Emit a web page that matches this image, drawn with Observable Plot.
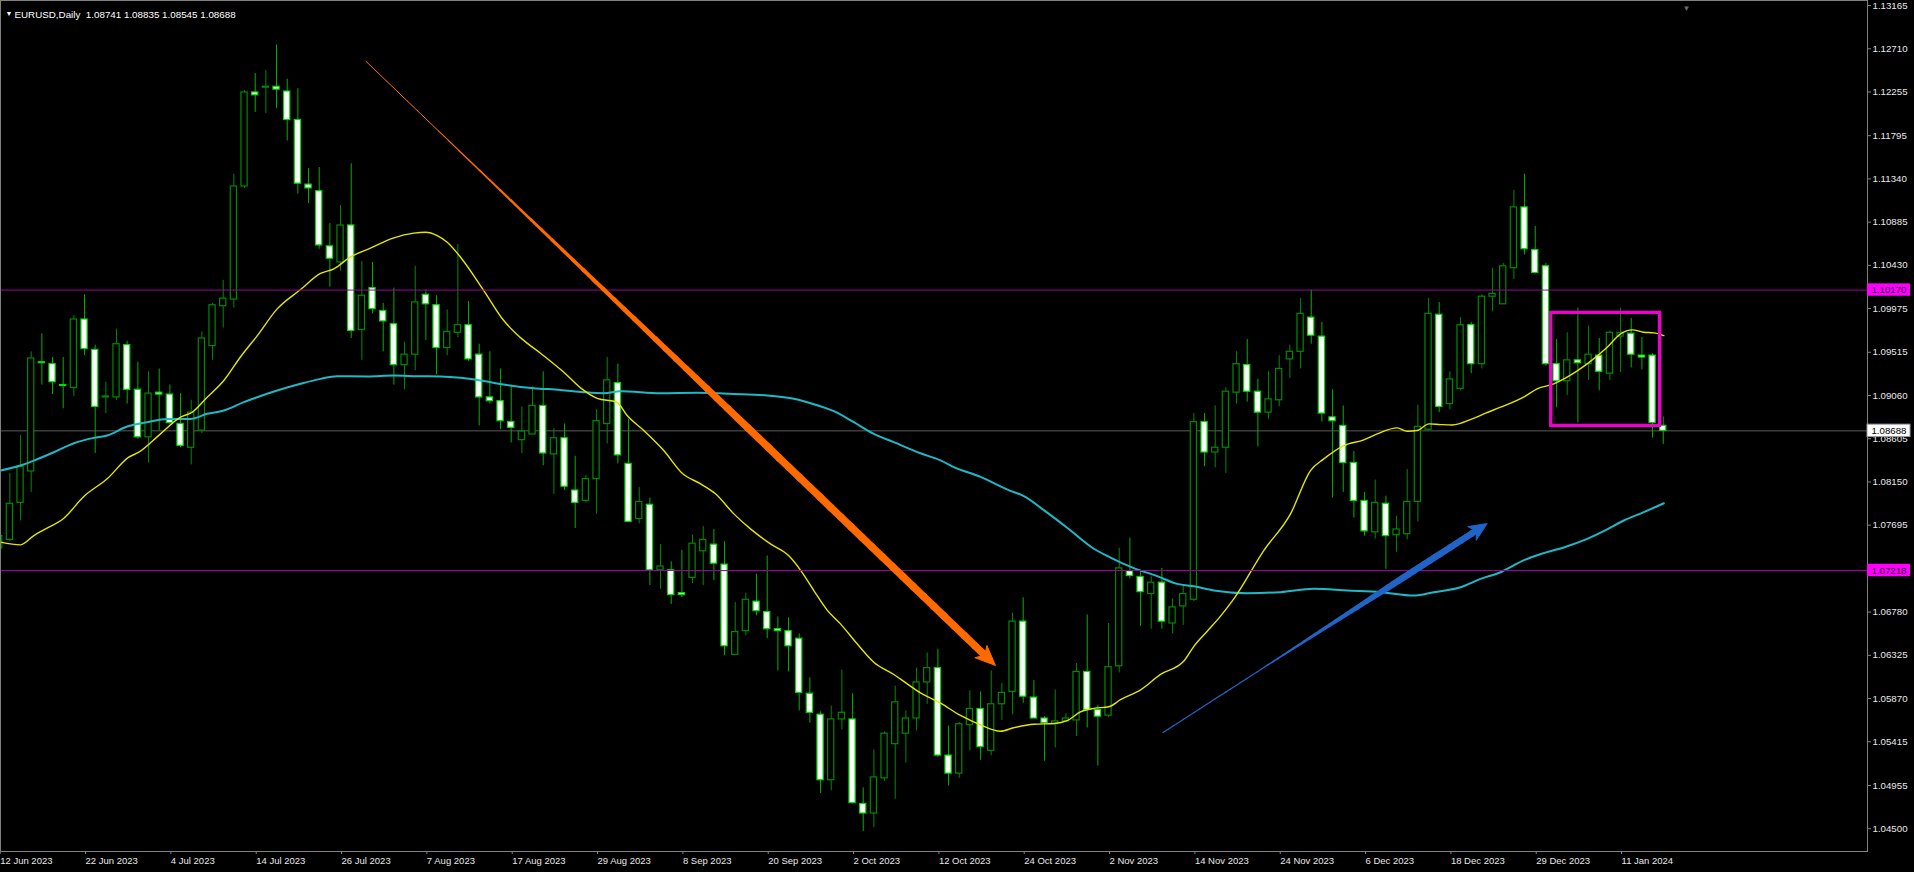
<!DOCTYPE html>
<html><head><meta charset="utf-8">
<script src="https://cdn.jsdelivr.net/npm/d3@7"></script>
<script src="https://cdn.jsdelivr.net/npm/@observablehq/plot@0.6"></script>
<style>
html,body{margin:0;padding:0;background:#000;overflow:hidden}
#chart svg{display:block;background:#000}
</style></head><body><div id="chart"></div>
<script>
// ---- data ----
const opens  = [1.0745,1.0754,1.0793,1.0826,1.0941,1.0939,1.0917,1.0914,1.0986,1.0954,1.0904,1.0904,1.0959,1.0912,1.0862,1.0909,1.0907,1.0876,1.0851,1.0869,1.0958,1.1000,1.1007,1.1126,1.1225,1.1230,1.1231,1.1226,1.1196,1.1128,1.1121,1.1063,1.1046,1.1085,1.0975,1.1019,1.0995,1.0981,1.0938,1.0949,1.1012,1.1001,1.0956,1.0972,1.0980,1.0949,1.0904,1.0900,1.0878,1.0859,1.0865,1.0895,1.0844,1.0861,1.0806,1.0795,1.0818,1.0876,1.0919,1.0834,1.0776,1.0791,1.0722,1.0722,1.0698,1.0714,1.0742,1.0749,1.0728,1.0633,1.0658,1.0689,1.0678,1.0660,1.0658,1.0650,1.0592,1.0570,1.0501,1.0565,1.0565,1.0476,1.0466,1.0503,1.0539,1.0550,1.0566,1.0604,1.0619,1.0527,1.0508,1.0559,1.0576,1.0532,1.0581,1.0594,1.0668,1.0588,1.0566,1.0560,1.0563,1.0564,1.0615,1.0575,1.0569,1.0621,1.0721,1.0715,1.0697,1.0709,1.0666,1.0684,1.0691,1.0878,1.0846,1.0851,1.0909,1.0938,1.0910,1.0888,1.0901,1.0944,1.0952,1.0988,1.0968,1.0883,1.0874,1.0835,1.0795,1.0762,1.0792,1.0759,1.0760,1.0794,1.0870,1.0991,1.0897,1.0913,1.0980,1.0939,1.1010,1.1002,1.1040,1.1104,1.1059,1.1042,1.0939,1.0921,1.0943,1.0939,1.0948,1.0929,1.0968,1.0971,1.0948,1.0948,1.08741];
const highs  = [1.0789,1.0824,1.0864,1.0952,1.0971,1.0946,1.0946,1.0990,1.1012,1.0959,1.0920,1.0976,1.0963,1.0941,1.0931,1.0934,1.0917,1.0908,1.0901,1.0973,1.1003,1.1027,1.1139,1.1227,1.1245,1.1248,1.1275,1.1239,1.1229,1.1145,1.1146,1.1087,1.1106,1.1150,1.1047,1.1046,1.1003,1.1019,1.0962,1.1042,1.1017,1.1011,1.0996,1.1065,1.1005,1.0960,1.0952,1.0934,1.0917,1.0894,1.0915,1.0931,1.0871,1.0876,1.0842,1.0822,1.0891,1.0946,1.0939,1.0881,1.0809,1.0798,1.0749,1.0731,1.0743,1.0759,1.0768,1.0765,1.0752,1.0688,1.0698,1.0718,1.0737,1.0673,1.0672,1.0655,1.0609,1.0573,1.0579,1.0617,1.0592,1.0493,1.0533,1.0552,1.0600,1.0574,1.0619,1.0635,1.0639,1.0558,1.0562,1.0595,1.0594,1.0616,1.0603,1.0677,1.0693,1.0606,1.0568,1.0596,1.0571,1.0624,1.0675,1.0580,1.0666,1.0745,1.0756,1.0722,1.0715,1.0724,1.0692,1.0706,1.0887,1.0887,1.0895,1.0914,1.0952,1.0965,1.0923,1.0931,1.0948,1.0959,1.1008,1.1017,1.0983,1.0912,1.0895,1.0847,1.0804,1.0817,1.0800,1.0779,1.0828,1.0896,1.1008,1.1004,1.0931,1.0988,1.0983,1.1012,1.1040,1.1045,1.1122,1.1139,1.1084,1.1045,1.0965,1.0972,1.0998,1.0979,1.0966,1.0974,1.0998,1.0987,1.0967,1.0950,1.08835];
const lows   = [1.0738,1.0752,1.0774,1.0804,1.0917,1.0907,1.0892,1.0905,1.0948,1.0845,1.0887,1.0901,1.0897,1.0860,1.0835,1.0869,1.0875,1.0851,1.0833,1.0866,1.0943,1.0977,1.0998,1.1124,1.1204,1.1203,1.1208,1.1174,1.1118,1.1108,1.1060,1.1020,1.1037,1.0966,1.0943,1.0992,1.0952,1.0917,1.0912,1.0932,1.0964,1.0928,1.0948,1.0967,1.0942,1.0874,1.0897,1.0870,1.0856,1.0845,1.0865,1.0832,1.0802,1.0806,1.0766,1.0793,1.0781,1.0855,1.0834,1.0773,1.0771,1.0706,1.0702,1.0686,1.0693,1.0708,1.0706,1.0711,1.0632,1.0633,1.0653,1.0674,1.0650,1.0616,1.0615,1.0574,1.0561,1.0487,1.0490,1.0554,1.0476,1.0447,1.0451,1.0500,1.0481,1.0519,1.0553,1.0581,1.0525,1.0495,1.0503,1.0532,1.0522,1.0527,1.0564,1.0570,1.0582,1.0566,1.0521,1.0535,1.0562,1.0547,1.0556,1.0516,1.0567,1.0614,1.0713,1.0663,1.0660,1.0660,1.0655,1.0664,1.0689,1.0831,1.0830,1.0824,1.0897,1.0899,1.0852,1.0881,1.0894,1.0924,1.0934,1.0960,1.0878,1.0798,1.0804,1.0777,1.0758,1.0755,1.0723,1.0741,1.0754,1.0773,1.0869,1.0888,1.0891,1.0911,1.0929,1.0934,1.0994,1.1002,1.1028,1.1054,1.1034,1.0937,1.0893,1.0906,1.0877,1.0922,1.0911,1.0922,1.0930,1.0935,1.0933,1.0861,1.08545];
const closes = [1.0758,1.0792,1.0831,1.0945,1.0940,1.0920,1.0916,1.0986,1.0955,1.0894,1.0905,1.0960,1.0912,1.0862,1.0908,1.0907,1.0877,1.0853,1.0888,1.0966,1.1001,1.1008,1.1126,1.1225,1.1222,1.1231,1.1228,1.1196,1.1129,1.1124,1.1064,1.1050,1.1085,1.0974,1.1011,1.0997,1.0984,1.0938,1.0949,1.1004,1.1002,1.0956,1.0973,1.0980,1.0944,1.0904,1.0900,1.0879,1.0872,1.0868,1.0895,1.0845,1.0861,1.0810,1.0793,1.0818,1.0879,1.0922,1.0843,1.0773,1.0794,1.0722,1.0726,1.0696,1.0696,1.0750,1.0754,1.0729,1.0642,1.0657,1.0691,1.0679,1.0660,1.0658,1.0642,1.0593,1.0572,1.0501,1.0565,1.0572,1.0477,1.0466,1.0504,1.0550,1.0583,1.0566,1.0604,1.0619,1.0527,1.0508,1.0560,1.0576,1.0536,1.0581,1.0593,1.0668,1.0589,1.0566,1.0561,1.0563,1.0566,1.0615,1.0575,1.0568,1.0620,1.0724,1.0716,1.0699,1.0709,1.0668,1.0683,1.0697,1.0878,1.0846,1.0851,1.0910,1.0939,1.0910,1.0888,1.0902,1.0934,1.0952,1.0992,1.0969,1.0887,1.0879,1.0835,1.0795,1.0763,1.0793,1.0758,1.0765,1.0794,1.0873,1.0992,1.0894,1.0923,1.0980,1.0939,1.1010,1.1013,1.1042,1.1104,1.1060,1.1035,1.0939,1.0921,1.0943,1.0940,1.0949,1.0931,1.0972,1.0972,1.0949,1.0946,1.0877,1.08688];

const xTickIndex  = [0,8,16,24,32,40,48,56,64,72,80,88,96,104,112,120,128,136,144,152];
const xTickLabels = ["12 Jun 2023","22 Jun 2023","4 Jul 2023","14 Jul 2023","26 Jul 2023","7 Aug 2023","17 Aug 2023","29 Aug 2023","8 Sep 2023","20 Sep 2023","2 Oct 2023","12 Oct 2023","24 Oct 2023","2 Nov 2023","14 Nov 2023","24 Nov 2023","6 Dec 2023","18 Dec 2023","29 Dec 2023","11 Jan 2024"];
const yTicks = [1.13165,1.12710,1.12255,1.11795,1.11340,1.10885,1.10430,1.09975,1.09515,1.09060,1.08605,1.08150,1.07695,1.07240,1.06780,1.06325,1.05870,1.05415,1.04955,1.04500];

const maFastIdx = [0.12,2.0,3.25,4.18,6.06,7.93,10.12,12.15,13.09,15.12,17.0,18.1,19.5,21.06,22.6,24.2,26.06,28.25,30.12,31.37,32.9,34.8,37.0,38.87,39.97,41.06,42.0,43.25,45.43,47.3,49.0,50.75,52.93,54.5,56.06,57.9,58.87,60.43,62.3,64.03,65.75,67.15,68.87,70.43,72.3,74.0,75.1,76.37,77.6,78.87,80.43,81.99,83.87,85.12,86.37,88.25,90.12,92.0,93.87,95.12,97.0,98.87,100.12,101.37,102.62,104.03,105.12,107.0,108.87,111.06,112.0,113.25,114.5,115.74,118.55,121.06,122.93,124.18,126.06,127.93,129.18,131.06,132.0,132.93,134.03,135.12,136.22,138.09,139.34,140.75,143.0,144.18,145.74,146.99,148.87,150.75,152.0,153.1,154.18,155.12,156.06];
const maFastVal = [1.07516,1.07488,1.07586,1.07646,1.07768,1.07997,1.08183,1.08411,1.08463,1.08656,1.08832,1.08884,1.09042,1.09218,1.09463,1.09691,1.09972,1.10175,1.10345,1.10393,1.10516,1.10611,1.10719,1.10769,1.10779,1.10744,1.10674,1.10516,1.10165,1.09849,1.09656,1.09505,1.09305,1.09140,1.09030,1.08989,1.08849,1.08691,1.08481,1.08242,1.08130,1.08025,1.07814,1.07656,1.07498,1.07375,1.07225,1.07007,1.06804,1.06656,1.06446,1.06253,1.06123,1.06025,1.05930,1.05822,1.05692,1.05593,1.05526,1.05563,1.05600,1.05607,1.05637,1.05729,1.05766,1.05784,1.05858,1.05962,1.06124,1.06265,1.06420,1.06579,1.06738,1.06919,1.07428,1.07814,1.08270,1.08393,1.08533,1.08593,1.08656,1.08719,1.08684,1.08691,1.08761,1.08754,1.08750,1.08814,1.08874,1.08937,1.09049,1.09130,1.09182,1.09253,1.09393,1.09568,1.09709,1.09751,1.09726,1.09719,1.09691];
const maSlowIdx = [0.12,2.0,3.25,5.12,7.0,8.87,10.12,12.0,13.87,15.75,17.93,19.5,21.06,22.93,26.06,28.25,30.12,31.68,34.5,37.0,39.2,41.37,43.25,45.12,47.3,50.12,52.62,54.81,56.68,58.25,62.0,65.43,68.87,72.0,74.5,76.06,78.25,80.12,82.0,83.87,86.37,88.25,89.5,92.0,94.8,96.06,97.93,100.12,102.62,104.18,106.37,108.56,110.43,112.0,113.87,117.0,120.12,123.25,126.37,129.5,132.62,134.5,137.0,138.87,140.75,143.0,144.56,146.74,148.87,150.43,152.31,154.18,156.06];
const maSlowVal = [1.08270,1.08323,1.08375,1.08463,1.08558,1.08614,1.08639,1.08733,1.08779,1.08814,1.08814,1.08867,1.08902,1.08990,1.09112,1.09183,1.09235,1.09263,1.09260,1.09270,1.09263,1.09260,1.09246,1.09218,1.09175,1.09137,1.09119,1.09095,1.09084,1.09105,1.09084,1.09088,1.09077,1.09060,1.09025,1.08979,1.08895,1.08779,1.08656,1.08569,1.08452,1.08377,1.08307,1.08204,1.08056,1.08001,1.07853,1.07668,1.07447,1.07354,1.07243,1.07159,1.07077,1.07051,1.07007,1.06979,1.06990,1.07025,1.07007,1.06990,1.06954,1.06990,1.07042,1.07130,1.07200,1.07330,1.07393,1.07463,1.07551,1.07632,1.07744,1.07832,1.07926];

const levelPrices = [1.10170, 1.07218];
const currentPrice = [1.08688];
const headerText = ["EURUSD,Daily  1.08741 1.08835 1.08545 1.08688"];
const zoneBox = [145.5, 155.7, 1.0874, 1.0993];      // [index from, index to, price low, price high]
const orangeArrow = [34.4, 1.12576, 93.4, 1.06218];  // [index, price] start -> tip
const blueArrow = [109.1, 1.05512, 139.5, 1.07712];

// ---- layout ----
const W = 1914, H = 872, mR = 47, mB = 21;
const xMin = 0.122, xMax = 175.15;
const yMin = 1.04260, yMax = 1.13218;
const pxPerBar = (W - mR) / (xMax - xMin);
const pxPerPrice = (H - mB) / (yMax - yMin);

const candles = opens.map((o, i) => ({i, o, h: highs[i], l: lows[i], c: closes[i], up: closes[i] >= o}));
const fast = maFastIdx.map((x, k) => ({x, y: maFastVal[k]}));
const slow = maSlowIdx.map((x, k) => ({x, y: maSlowVal[k]}));
const labelMap = new Map(xTickIndex.map((d, k) => [d, xTickLabels[k]]));

function arrowMarks(a, color, wProfile, headLen, headW) {
  const [i1, p1, i2, p2] = a;
  const ux = (i2 - i1) * pxPerBar, uy = -(p2 - p1) * pxPerPrice;
  const len = Math.hypot(ux, uy);
  const dx = ux / len, dy = uy / len, nx = -dy, ny = dx;
  const toData = (px, py) => ({x: i1 + px / pxPerBar, y: p1 - py / pxPerPrice});
  const shaft = len - headLen * 0.7;
  const N = 60, segs = [];
  for (let k = 0; k < N; k++) {
    const s0 = shaft * k / N, s1 = shaft * (k + 1) / N;
    const a0 = toData(dx * s0, dy * s0), a1 = toData(dx * s1, dy * s1);
    segs.push({x1: a0.x, y1: a0.y, x2: a1.x, y2: a1.y, w: wProfile((k + 0.5) / N)});
  }
  const bx = ux - dx * headLen, by = uy - dy * headLen;
  const nb = ux - dx * headLen * 0.75, nby = uy - dy * headLen * 0.75;
  const head = [
    toData(bx + nx * headW / 2, by + ny * headW / 2),
    toData(ux, uy),
    toData(bx - nx * headW / 2, by - ny * headW / 2),
    toData(nb, nby)
  ];
  return [
    Plot.link(segs, {x1: "x1", y1: "y1", x2: "x2", y2: "y2", stroke: color, strokeWidth: "w", strokeLinecap: "round"}),
    Plot.line(head, {x: "x", y: "y", fill: color, stroke: color, strokeWidth: 1, curve: "linear-closed"})
  ];
}

const orangeW = t => t < 0.12 ? 1 : Math.min(7.5, 1 + 6.5 * Math.pow((t - 0.12) / 0.5, 1.1));
const blueW = t => t < 0.3 ? 1.2 : Math.min(6.5, 1.2 + 5.3 * Math.pow((t - 0.3) / 0.45, 1.2));

const bullLine = "#008a00", bearLine = "#00dd00", bullWick = "#008a00", bearWick = "#00b000";
const lvlColor = "#a000a0", boxMagenta = "#ff00ff", zoneColor = "#f000d0";
const axisGray = "#808080", textColor = "#e8e8e8";
const boxI1 = xMax, boxI2 = xMax + 43 / pxPerBar, boxHalf = 6.2 / pxPerPrice;
const font = "Liberation Sans, Arial, sans-serif";

const plot = Plot.plot({
  width: W, height: H,
  marginLeft: 0, marginRight: mR, marginTop: 0, marginBottom: mB,
  style: {background: "#000", fontFamily: font, color: textColor},
  x: {domain: [xMin, xMax]},
  y: {domain: [yMin, yMax]},
  color: {type: "identity"},
  marks: [
    Plot.ruleY(currentPrice, {y: d => d, stroke: "#5c5c5c", strokeWidth: 1}),
    Plot.ruleX(candles, {x: "i", y1: "l", y2: "h", stroke: d => d.up ? bullWick : bearWick, strokeWidth: 1, clip: true}),
    Plot.rect(candles, {x1: d => d.i - 0.29, x2: d => d.i + 0.29, y1: "o", y2: "c",
      fill: d => d.up ? "#000" : "#fff", stroke: d => d.up ? bullLine : bearLine, strokeWidth: 1.2, clip: true}),
    Plot.line(slow, {x: "x", y: "y", stroke: "#1fb8c6", strokeWidth: 2, curve: "monotone-x", clip: true}),
    Plot.line(fast, {x: "x", y: "y", stroke: "#e6e600", strokeWidth: 1.4, curve: "monotone-x", clip: true}),
    Plot.ruleY(levelPrices, {y: d => d, stroke: lvlColor, strokeWidth: 1}),
    Plot.rect([zoneBox], {x1: d => d[0], x2: d => d[1], y1: d => d[2], y2: d => d[3], fill: "none", stroke: zoneColor, strokeWidth: 3.3}),
    ...arrowMarks(orangeArrow, "#ff6a00", orangeW, 20, 17),
    ...arrowMarks(blueArrow, "#2164c8", blueW, 18, 16),
    Plot.frame({stroke: axisGray, strokeWidth: 1}),
    Plot.axisY(yTicks, {anchor: "right", tickFormat: d => d.toFixed(5), tickSize: 3, tickPadding: 2,
      fontSize: 9.7, color: textColor, stroke: axisGray}),
    Plot.axisX(xTickIndex, {anchor: "bottom", tickFormat: d => labelMap.get(d), tickSize: 3, tickPadding: 3,
      textAnchor: "start", dx: 1, fontSize: 9.5, color: textColor, stroke: axisGray}),
    Plot.rect(levelPrices, {x1: boxI1, x2: boxI2, y1: d => d - boxHalf, y2: d => d + boxHalf, fill: boxMagenta}),
    Plot.text(levelPrices, {x: (boxI1 + boxI2) / 2, y: d => d, text: d => d.toFixed(5), fill: "#2a002a", fontSize: 9.7}),
    Plot.rect(currentPrice, {x1: boxI1, x2: boxI2, y1: d => d - boxHalf, y2: d => d + boxHalf, fill: "#fff", stroke: "#999", strokeWidth: 1}),
    Plot.text(currentPrice, {x: (boxI1 + boxI2) / 2, y: d => d, text: d => d.toFixed(5), fill: "#000", fontSize: 9.7}),
    Plot.text(["\u25BC"], {frameAnchor: "top-left", dx: 5, dy: 11, fill: "#fff", fontSize: 7}),
    Plot.text(headerText, {frameAnchor: "top-left", textAnchor: "start", dx: 14, dy: 11, fill: "#fff", fontSize: 9.8}),
    Plot.text(["\u25BC"], {frameAnchor: "top-left", dx: 1682, dy: 5, fill: "#6a6a6a", fontSize: 8})
  ]
});
document.getElementById("chart").appendChild(plot);
</script>
</body></html>
